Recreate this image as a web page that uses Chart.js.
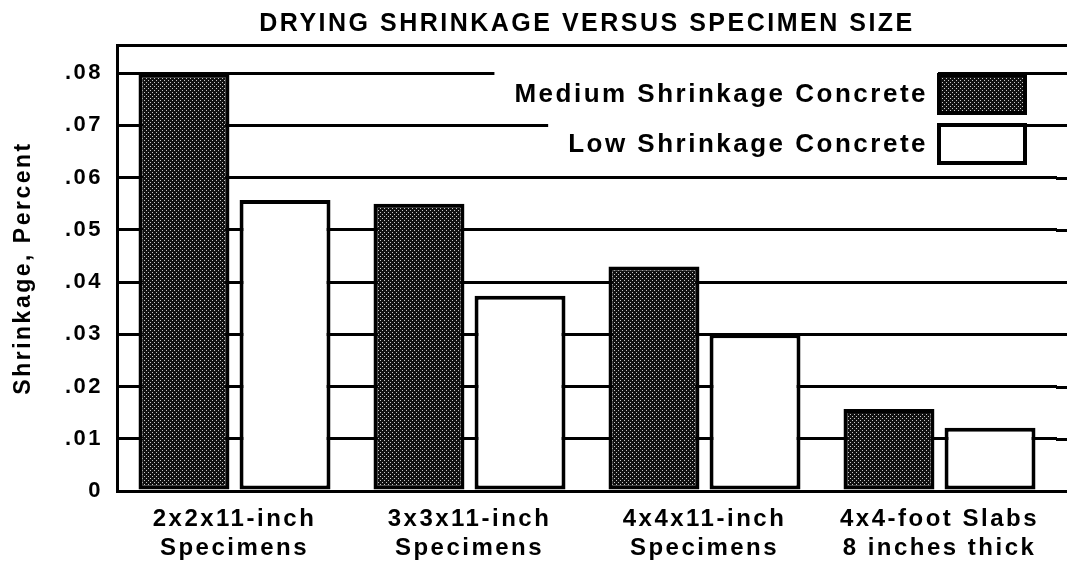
<!DOCTYPE html>
<html>
<head>
<meta charset="utf-8">
<script src="https://cdn.jsdelivr.net/npm/chart.js@4.4.0/dist/chart.umd.min.js"></script>
<style>
  html, body { margin: 0; padding: 0; background: #fff; }
  #wrap { width: 1067px; height: 573px; }
</style>
</head>
<body>
<div id="wrap"><canvas id="chart"></canvas></div>
<script>
const categories = [
    ['2x2x11-inch', 'Specimens'],
    ['3x3x11-inch', 'Specimens'],
    ['4x4x11-inch', 'Specimens'],
    ['4x4-foot Slabs', '8 inches thick']
];
const mediumShrinkage = [0.080, 0.055, 0.043, 0.0157];
const lowShrinkage = [0.0557, 0.0374, 0.030, 0.0121];
const yTicks = [0, 0.01, 0.02, 0.03, 0.04, 0.05, 0.06, 0.07, 0.08];
const yTickLabels = ['0', '.01', '.02', '.03', '.04', '.05', '.06', '.07', '.08'];
const yMax = 0.0854;

const FONT = "'Liberation Sans', Arial, sans-serif";

// dark dotted screen like the printed bars
function screenPattern() {
    const c = document.createElement('canvas');
    c.width = 4;
    c.height = 4;
    const g = c.getContext('2d');
    g.fillStyle = '#111';
    g.fillRect(0, 0, 4, 4);
    g.fillStyle = '#c8c8c8';
    g.fillRect(0, 0, 1, 1);
    g.fillRect(2, 2, 1, 1);
    return g.createPattern(c, 'repeat');
}
const screen = screenPattern();

// wide tracking of the old print
const tracking = {
    id: 'tracking',
    beforeUpdate(chart) { chart.ctx.letterSpacing = '2.5px'; },
    beforeDraw(chart) { chart.ctx.letterSpacing = '2.5px'; }
};

// grid lines run on past the last category to the page edge
const gridRun = {
    id: 'gridRun',
    beforeDatasetsDraw(chart) {
        const { ctx, chartArea, scales: { y } } = chart;
        ctx.save();
        ctx.strokeStyle = '#000';
        ctx.lineWidth = 3;
        y.ticks.forEach(t => {
            const py = Math.round(y.getPixelForValue(t.value)) + 0.5;
            ctx.beginPath();
            ctx.moveTo(chartArea.right - 1, py);
            ctx.lineTo(chart.width, py);
            ctx.stroke();
        });
        ctx.restore();
    }
};

// legend: text on the left, swatch on the right, white behind the text
const sideLegend = {
    id: 'sideLegend',
    afterDatasetsDraw(chart) {
        const { ctx, chartArea } = chart;
        const boxW = 90, boxH = 42;
        const boxRight = chartArea.right - 30;
        ctx.save();
        ctx.font = 'bold 26px ' + FONT;
        ctx.textAlign = 'right';
        ctx.textBaseline = 'middle';
        chart.data.datasets.forEach((ds, i) => {
            const cy = chartArea.top + 49 + i * 50;
            const textRight = boxRight - boxW - 9;
            const w = ctx.measureText(ds.label).width;
            ctx.fillStyle = '#fff';
            ctx.fillRect(textRight - w - 20, cy - 23, w + 20 + 10, 46);
            ctx.fillStyle = '#000';
            ctx.fillText(ds.label, textRight, cy + 1);
            ctx.fillStyle = ds.backgroundColor;
            ctx.fillRect(boxRight - boxW, cy - boxH / 2, boxW, boxH);
            ctx.lineWidth = 4;
            ctx.strokeStyle = '#000';
            ctx.strokeRect(boxRight - boxW + 2, cy - boxH / 2 + 2, boxW - 4, boxH - 4);
        });
        ctx.restore();
    }
};

new Chart(document.getElementById('chart'), {
    type: 'bar',
    data: {
        labels: categories,
        datasets: [
            {
                label: 'Medium Shrinkage Concrete',
                data: mediumShrinkage,
                backgroundColor: screen,
                borderColor: '#000',
                borderWidth: 4,
                borderSkipped: false,
                categoryPercentage: 0.86,
                barPercentage: 0.9
            },
            {
                label: 'Low Shrinkage Concrete',
                data: lowShrinkage,
                backgroundColor: '#fff',
                borderColor: '#000',
                borderWidth: 4,
                borderSkipped: false,
                categoryPercentage: 0.86,
                barPercentage: 0.9
            }
        ]
    },
    options: {
        responsive: true,
        maintainAspectRatio: false,
        animation: false,
        layout: { padding: { left: 0, right: 10, top: 0, bottom: 12 } },
        plugins: {
            legend: { display: false },
            tooltip: { enabled: false },
            title: {
                display: true,
                text: 'DRYING SHRINKAGE VERSUS SPECIMEN SIZE',
                fullSize: false,
                color: '#000',
                font: { family: FONT, size: 25, weight: 'bold' },
                padding: { top: 9, bottom: 6 }
            }
        },
        scales: {
            x: {
                afterFit(scale) { scale.height = 70; },
                grid: { display: false, drawTicks: false },
                border: { display: true, color: '#000', width: 3 },
                ticks: {
                    color: '#000',
                    font: { family: FONT, size: 24, weight: 'bold' },
                    padding: 14,
                    autoSkip: false,
                    maxRotation: 0
                }
            },
            y: {
                min: 0,
                max: yMax,
                afterBuildTicks(scale) {
                    scale.ticks = yTicks.concat([yMax]).map(v => ({ value: v }));
                },
                afterFit(scale) { scale.width = 117; },
                grid: { color: '#000', lineWidth: 3, drawTicks: false },
                border: { color: '#000', width: 3 },
                ticks: {
                    color: '#000',
                    font: { family: FONT, size: 22, weight: 'bold' },
                    padding: 14,
                    callback(value) {
                        const i = yTicks.findIndex(t => Math.abs(t - value) < 1e-9);
                        return i >= 0 ? yTickLabels[i] : '';
                    }
                },
                title: {
                    display: true,
                    text: 'Shrinkage, Percent',
                    color: '#000',
                    font: { family: FONT, size: 23, weight: 'bold' },
                    padding: { top: 10, bottom: 0 }
                }
            }
        }
    },
    plugins: [tracking, gridRun, sideLegend]
});
</script>
</body>
</html>
